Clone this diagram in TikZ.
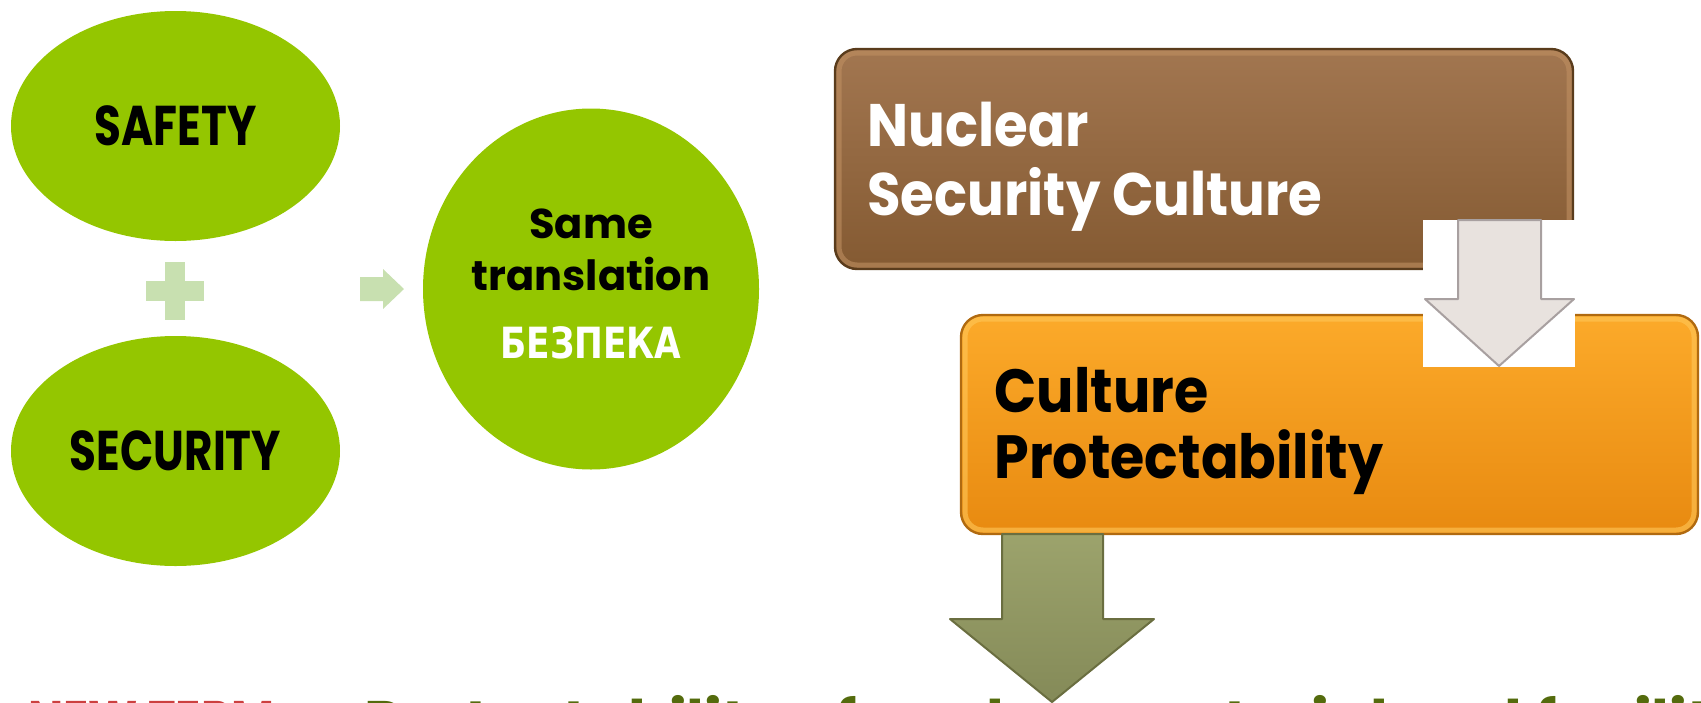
\documentclass[tikz,border=0pt]{standalone}
\usepackage{fontspec}
\setmainfont{Poppins}
\newfontfamily\capsfont{Poppins}[FakeStretch=0.78]
\newfontfamily\tilefont{Poppins}[FakeStretch=0.91]
\newfontfamily\cyrfont{DejaVuSans-Bold.ttf}[FakeStretch=0.8]
\usetikzlibrary{shapes.geometric}
\definecolor{yyccqq}{rgb}{0.58,0.776,0.}
\definecolor{ccffcc}{rgb}{0.784,0.878,0.69}
\definecolor{ttzzqq}{rgb}{0.635,0.463,0.314}
\definecolor{ddzzqq}{rgb}{0.518,0.353,0.196}
\definecolor{uuqqqq}{rgb}{0.353,0.235,0.11}
\definecolor{eettuu}{rgb}{0.75,0.56,0.38}
\definecolor{ffaaqq}{rgb}{0.988,0.667,0.165}
\definecolor{eezzqq}{rgb}{0.91,0.541,0.063}
\definecolor{bbuuqq}{rgb}{0.69,0.416,0.063}
\definecolor{ffccuu}{rgb}{1.,0.78,0.35}
\definecolor{eeddcc}{rgb}{0.91,0.886,0.871}
\definecolor{aaaaaa}{rgb}{0.659,0.627,0.627}
\definecolor{zzaauu}{rgb}{0.612,0.639,0.424}
\definecolor{zzzzuu}{rgb}{0.518,0.541,0.345}
\definecolor{uuuuqq}{rgb}{0.416,0.431,0.251}
\definecolor{ddqqqq}{rgb}{0.8,0.25,0.25}
\definecolor{uuttqq}{rgb}{0.33,0.42,0.05}
\tikzset{
  blob/.style={ellipse,fill=yyccqq,inner sep=0pt},
  blobtext/.style={anchor=base,inner sep=0pt,font=\bfseries\fontsize{20.8}{24}\selectfont},
  tile/.style={rectangle,rounded corners=11pt,line width=1.2pt},
  tiletext/.style={anchor=base west,inner sep=0pt,font=\tilefont\bfseries},
}
\begin{document}
\begin{tikzpicture}[line join=round,x=0.5pt,y=-0.5pt]
            \useasboundingbox (0,0) rectangle (1701,702);
            % left side
            \node[blob,minimum width=164.5pt,minimum height=115pt,font=\capsfont\bfseries\fontsize{28}{34}\selectfont] (safety) at (175.5,126) {SAFETY};
            \node[blob,minimum width=164.5pt,minimum height=115pt,font=\capsfont\bfseries\fontsize{28}{34}\selectfont] (security) at (175.5,451) {SECURITY};
            \fill[color=ccffcc] (146,281) rectangle (204,301);
            \fill[color=ccffcc] (165,262) rectangle (185,320);
            \fill[color=ccffcc] (360,277) -- (383,277) -- (383,269) -- (404,289) -- (383,309) -- (383,301) -- (360,301) -- cycle;
            \node[blob,minimum width=168pt,minimum height=180.5pt] (same) at (591,289) {};
            \node[blobtext] (same1) at (591,238) {Same};
            \node[blobtext] (same2) at (591,290) {translation};
            \node[blobtext,text=white,font=\cyrfont\fontsize{21.5}{24}\selectfont] (same3) at (591,358) {БЕЗПЕКА};
            % right side
            \node[tile,top color=ttzzqq,bottom color=ddzzqq,draw=uuqqqq,minimum width=369pt,minimum height=110pt] (nsc) at (1204,159) {};
            \draw[color=eettuu,line width=2.5pt,opacity=0.6,rounded corners=9pt] (839,53) rectangle (1569,265);
            \node[tiletext,text=white,font=\tilefont\bfseries\fontsize{30}{34}\selectfont] (nsc1) at (867,146) {Nuclear};
            \node[tiletext,text=white,font=\tilefont\bfseries\fontsize{30}{34}\selectfont] (nsc2) at (867,215) {Security Culture};
            \node[tile,top color=ffaaqq,bottom color=eezzqq,draw=bbuuqq,minimum width=368.5pt,minimum height=109.5pt] (cp) at (1329.5,424.5) {};
            \draw[color=ffccuu,line width=2.5pt,opacity=0.6,rounded corners=9pt] (965,319) rectangle (1694,530);
            \node[tiletext,text=black,font=\tilefont\bfseries\fontsize{30.5}{34}\selectfont] (cp1) at (994,412) {Culture};
            \node[tiletext,text=black,font=\tilefont\bfseries\fontsize{30.5}{34}\selectfont] (cp2) at (994,478) {Protectability};
            % arrows between the tiles
            \fill[color=white] (1423,220) rectangle (1575,367);
            \draw[line width=1pt,color=aaaaaa,fill=eeddcc] (1458,220) -- (1541,220) -- (1541,299) -- (1574,299) -- (1499,366) -- (1425,299) -- (1458,299) -- cycle;
            \draw[line width=1pt,color=uuuuqq,top color=zzaauu,bottom color=zzzzuu] (1002,534) -- (1103,534) -- (1103,619) -- (1154,619) -- (1052,702) -- (950,619) -- (1002,619) -- cycle;
            % bottom line, cut by the page edge
            \node[anchor=base west,inner sep=0pt,font=\bfseries\fontsize{30}{34}\selectfont] (term) at (28,743)
              {\textcolor{ddqqqq}{\capsfont NEW TERM}\hspace{12pt}\textcolor{uuttqq}{–\hspace{12pt}Protectability of nuclear material and facilities}};
\end{tikzpicture}
\end{document}
